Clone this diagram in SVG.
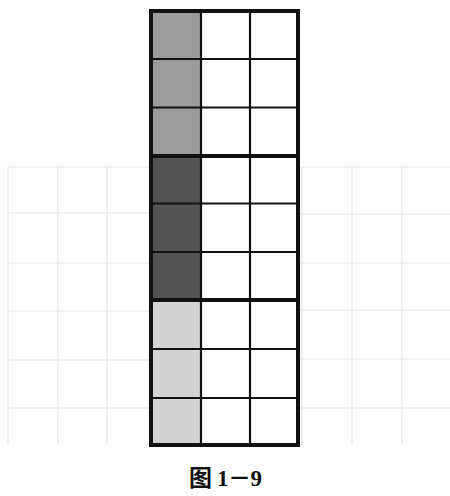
<svg xmlns="http://www.w3.org/2000/svg" width="450" height="496" viewBox="0 0 450 496">
<style>
.ghost{stroke:#e4e4e4;stroke-width:1.2;fill:none}
.thin{stroke:#111;stroke-width:2.2;fill:none}
.thick{stroke:#111;stroke-width:4;fill:none}
.cap{font-family:"Liberation Serif","Noto Sans CJK SC",serif;font-weight:bold;font-size:23px;fill:#111}
</style>
<rect width="450" height="496" fill="#fefefe"/>
<g id="ghost-grid">
<path class="ghost" d="M8 167V445M58 167V445M107 167V445M302 167V445M352 167V445M402 167V445M8 167H151M8 213H151M8 263H151M8 311H151M8 360H151M8 408H151M300 167H450M300 214H450M300 263H450M300 310H450M300 359H450M300 408H450"/>
</g>
<g id="shading">
<rect x="151" y="11" width="50" height="145" fill="#9b9b9b"/>
<rect x="151" y="156" width="50" height="144" fill="#535353"/>
<rect x="151" y="300" width="50" height="145" fill="#d2d2d2"/>
</g>
<g id="grid">
<path class="thin" d="M201 11V445M250 11V445M151 59H298M151 107.5H298M151 203.5H298M151 252H298M151 349H298M151 398H298"/>
<path class="thick" d="M151 156H298M151 300H298"/>
<rect class="thick" x="151" y="11" width="147" height="434"/>
</g>
<text class="cap" x="189" y="486" textLength="73" lengthAdjust="spacing">图 1－9</text>
</svg>
